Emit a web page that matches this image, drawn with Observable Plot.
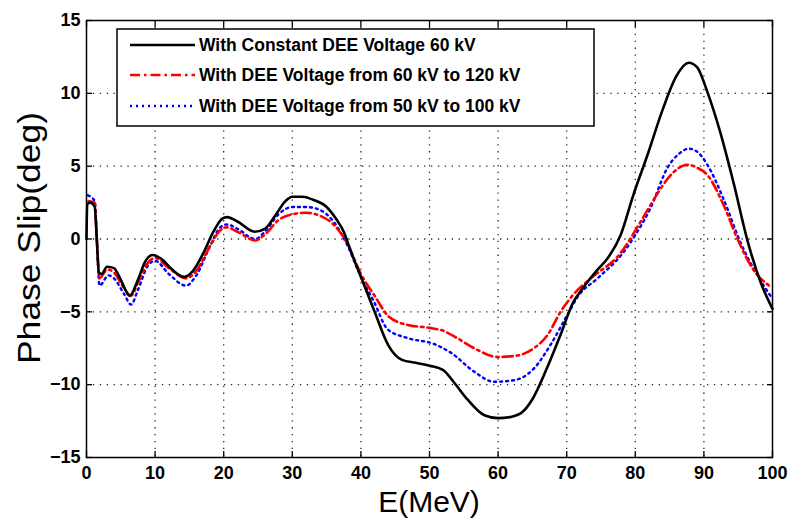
<!DOCTYPE html>
<html>
<head>
<meta charset="utf-8">
<script src="https://cdn.jsdelivr.net/npm/d3@7"></script>
<script src="https://cdn.jsdelivr.net/npm/@observablehq/plot@0.6"></script>
<style>
  html, body { margin: 0; padding: 0; background: #fff; }
  #chart { width: 793px; height: 529px; }
  svg { font-family: "Liberation Sans", Arial, sans-serif; }
</style>
</head>
<body>
<div id="chart"></div>
<script>
// ---- Data ----
const seriesNames = [
  "With Constant DEE Voltage 60 kV",
  "With DEE Voltage from 60 kV to 120 kV",
  "With DEE Voltage from 50 kV to 100 kV"
];
const blackE = [0, 0.1, 0.6, 1.2, 1.5, 1.8, 2.2, 3, 4, 5, 6.3, 7.5, 8.5, 9.6, 11, 12.5, 14.2, 15.5, 17, 18.5, 19.8, 20.5, 22, 24.5, 26, 27.5, 29, 30, 31.5, 33, 35, 36.5, 37.5, 38.5, 40, 42, 44, 46, 48, 50, 52, 53.5, 55.5, 58, 60, 62, 63.5, 65, 67, 69, 71, 72, 74.5, 76, 77.8, 79.7, 81.8, 84, 86, 87.8, 89, 90.5, 92.4, 94.3, 96.4, 98.3, 100];
const blackV = [0, 2.4, 2.5, 2.2, 0, -2.3, -2.4, -1.9, -2.0, -2.8, -3.9, -2.8, -1.6, -1.1, -1.4, -2.1, -2.6, -2.2, -1.0, 0.5, 1.4, 1.5, 1.2, 0.5, 0.7, 1.6, 2.6, 2.9, 2.9, 2.7, 2.2, 1.3, 0.5, -0.8, -2.6, -5.0, -7.3, -8.3, -8.5, -8.7, -9.0, -9.8, -11.0, -12.1, -12.3, -12.2, -11.9, -11.0, -9.0, -6.7, -4.3, -3.6, -2.1, -1.3, 0.2, 3.0, 5.8, 8.9, 11.2, 12.1, 11.8, 10.1, 7.3, 3.9, -0.2, -3.0, -4.8];
const redE = [0.3, 1.2, 1.5, 1.9, 3, 4, 5.5, 6.5, 7.5, 9, 10, 12, 14.5, 16, 18, 19.5, 20.5, 22, 24.6, 26, 28, 30, 32, 34, 36, 38, 40, 42, 44, 46.8, 50, 52, 54, 56.5, 60, 62.8, 65.2, 67.2, 69.1, 71, 73.5, 77.8, 80.8, 83.2, 85, 87.6, 89, 90.5, 92.9, 94.9, 97.2, 99.5];
const redV = [2.6, 2.5, 0, -2.7, -2.1, -2.3, -3.4, -3.9, -3.0, -1.6, -1.3, -2.0, -2.7, -2.2, -0.5, 0.6, 0.8, 0.5, -0.1, 0.3, 1.3, 1.7, 1.8, 1.6, 1.0, -0.3, -2.4, -3.9, -5.3, -5.9, -6.1, -6.3, -6.8, -7.5, -8.1, -8.0, -7.5, -6.6, -5.0, -3.8, -2.7, -1.0, 1.2, 3.1, 4.3, 5.1, 4.9, 4.4, 2.3, 0, -2.1, -3.2];
const blueE = [0.2, 1.2, 1.5, 1.9, 3.2, 4, 5.5, 6.5, 7.5, 9, 10, 12, 14.5, 16, 18, 19.5, 20.5, 22, 24.6, 26, 28, 30, 32, 34, 36, 38, 40, 41.9, 43.9, 46.8, 50.6, 53.1, 56.5, 59.4, 62.3, 65.2, 67.6, 70.1, 71.7, 74.5, 78.3, 80.3, 82.2, 84.7, 86.5, 87.8, 89, 90.5, 92.9, 95.3, 97.8, 100];
const blueV = [3.0, 2.6, 0, -3.2, -2.5, -2.7, -3.8, -4.5, -3.5, -1.8, -1.5, -2.4, -3.2, -2.5, -0.5, 0.8, 1.0, 0.7, 0.0, 0.5, 1.7, 2.2, 2.2, 2.0, 1.2, -0.4, -2.6, -4.3, -6.2, -6.8, -7.2, -7.8, -9.1, -9.8, -9.7, -8.9, -7.3, -5.2, -3.9, -2.7, -0.9, 0.5, 2.1, 4.9, 5.9, 6.2, 6.0, 5.1, 2.7, -0.2, -2.5, -4.1];
const xTicks = [0, 10, 20, 30, 40, 50, 60, 70, 80, 90, 100];
const yTicks = [-15, -10, -5, 0, 5, 10, 15];
const xLabel = "E(MeV)";
const yLabel = "Phase Slip(deg)";

// ---- Build tables ----
const toRows = (E, V, s) => E.map((e, i) => ({E: e, v: V[i], s}));
const black = toRows(blackE, blackV, seriesNames[0]);
const red = toRows(redE, redV, seriesNames[1]);
const blue = toRows(blueE, blueV, seriesNames[2]);

const styles = [
  {stroke: "#000000", dash: null, width: 2.6},
  {stroke: "#ff0000", dash: "10,4,2.5,4", width: 2.6},
  {stroke: "#0000ff", dash: "2,4", width: 2.4}
];

const gridStyle = {stroke: "#000", strokeOpacity: 0.85, strokeWidth: 1.3, strokeDasharray: "1.3,5.6"};
const tickFont = {fontSize: 18, fontWeight: "bold"};

const chart = Plot.plot({
  width: 793,
  height: 529,
  marginLeft: 86,
  marginRight: 21,
  marginTop: 20,
  marginBottom: 72,
  style: {background: "#fff", color: "#000", overflow: "visible"},
  x: {domain: [0, 100], ticks: xTicks},
  y: {domain: [-15, 15], ticks: yTicks},
  marks: [
    Plot.ruleX(xTicks.slice(1, -1), {x: d => d, ...gridStyle}),
    Plot.ruleY(yTicks.slice(1, -1), {y: d => d, ...gridStyle}),
    Plot.line(blue, {x: "E", y: "v", stroke: styles[2].stroke, strokeWidth: styles[2].width, strokeDasharray: styles[2].dash, curve: "monotone-x"}),
    Plot.line(red, {x: "E", y: "v", stroke: styles[1].stroke, strokeWidth: styles[1].width, strokeDasharray: styles[1].dash, curve: "monotone-x"}),
    Plot.line(black, {x: "E", y: "v", stroke: styles[0].stroke, strokeWidth: styles[0].width, curve: "monotone-x"}),
    // inward ticks on all four sides
    Plot.axisX(xTicks, {anchor: "bottom", tickSize: -6, tickFormat: () => "", label: null, strokeWidth: 1.3}),
    Plot.axisX(xTicks, {anchor: "top", tickSize: -6, tickFormat: () => "", label: null, strokeWidth: 1.3}),
    Plot.axisY(yTicks, {anchor: "left", tickSize: -6, tickFormat: () => "", label: null, strokeWidth: 1.3}),
    Plot.axisY(yTicks, {anchor: "right", tickSize: -6, tickFormat: () => "", label: null, strokeWidth: 1.3}),
    // tick labels
    Plot.axisX(xTicks, {anchor: "bottom", tickSize: 0, tickPadding: 9, label: null, ...tickFont}),
    Plot.axisY(yTicks, {anchor: "left", tickSize: 0, tickPadding: 6, label: null, ...tickFont}),
    Plot.frame({stroke: "#000", strokeWidth: 1.5})
  ]
});
document.getElementById("chart").appendChild(chart);

// ---- Axis titles and legend (appended to the plot SVG) ----
const svg = d3.select(chart);
svg.append("text")
  .attr("x", 429).attr("y", 512)
  .attr("text-anchor", "middle")
  .attr("font-size", 30)
  .attr("font-family", "Liberation Sans, Arial, sans-serif")
  .text(xLabel);
svg.append("text")
  .attr("transform", "translate(40,238) rotate(-90)")
  .attr("text-anchor", "middle")
  .attr("font-size", 31)
  .attr("textLength", 252)
  .attr("lengthAdjust", "spacingAndGlyphs")
  .attr("font-family", "Liberation Sans, Arial, sans-serif")
  .text(yLabel);

const lg = svg.append("g").attr("text-anchor", "start");
lg.append("rect")
  .attr("x", 117).attr("y", 29).attr("width", 477).attr("height", 97)
  .attr("fill", "#fff").attr("stroke", "#000").attr("stroke-width", 1.5);
const rowY = [45, 75, 106];
seriesNames.forEach((name, i) => {
  lg.append("line")
    .attr("x1", 130).attr("x2", 195).attr("y1", rowY[i]).attr("y2", rowY[i])
    .attr("stroke", styles[i].stroke).attr("stroke-width", styles[i].width)
    .attr("stroke-dasharray", styles[i].dash);
  lg.append("text")
    .attr("x", 199).attr("y", rowY[i] + 6)
    .attr("text-anchor", "start")
    .attr("font-size", 17.5).attr("font-weight", "bold")
    .attr("font-family", "Liberation Sans, Arial, sans-serif")
    .text(name);
});
</script>
</body>
</html>
